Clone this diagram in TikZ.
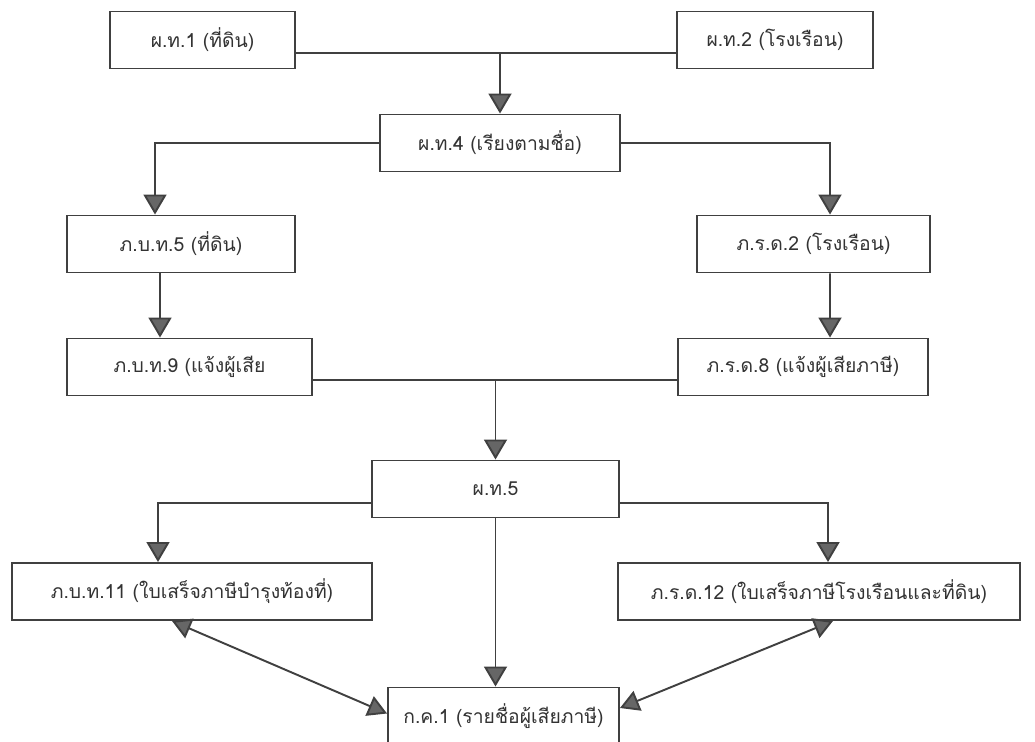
\documentclass[tikz,border=0pt]{standalone}
\usepackage{fontspec}
\newfontfamily\thaifont[Script=Thai]{Loma}
\usetikzlibrary{arrows.meta,positioning}

\begin{document}
\begin{tikzpicture}[node distance=2cm,on grid,
  form/.style={draw=black!75,line width=1.1pt,fill=white,minimum height=1.14cm,
    font=\thaifont\fontsize{11}{13}\selectfont,text=black!80},
  link/.style={draw=black!75,line width=1.1pt},
  arr/.style={link,-{Triangle[width=0.46cm,length=0.4cm,fill=black!60]}},
  twoway/.style={link,{Triangle[width=0.42cm,length=0.38cm,fill=black!60]}-{Triangle[width=0.42cm,length=0.38cm,fill=black!60]}}]
\useasboundingbox (0,0) rectangle (20.7,-14.84);
\node[form,minimum width=3.7cm] (pt1) at (4.05,-0.8) {ผ.ท.1 (ที่ดิน)};
\node[form,minimum width=3.92cm] (pt2) [right=11.45cm of pt1] {ผ.ท.2 (โรงเรือน)};
\node[form,minimum width=4.8cm] (pt4) [below right=2.06cm and 5.95cm of pt1] {ผ.ท.4 (เรียงตามชื่อ)};
\node[form,minimum width=4.56cm] (pbt5) [below left=2.02cm and 6.38cm of pt4] {ภ.บ.ท.5 (ที่ดิน)};
\node[form,minimum width=4.66cm] (prd2) [below right=2.02cm and 6.27cm of pt4] {ภ.ร.ด.2 (โรงเรือน)};
\node[form,minimum width=4.9cm] (pbt9) [below right=2.46cm and 0.17cm of pbt5] {ภ.บ.ท.9 (แจ้งผู้เสีย};
\node[form,minimum width=5cm] (prd8) [below left=2.46cm and 0.21cm of prd2] {ภ.ร.ด.8 (แจ้งผู้เสียภาษี)};
\node[form,minimum width=4.94cm] (pt5) [below left=6.92cm and 0.09cm of pt4] {ผ.ท.5};
\node[form,minimum width=7.2cm] (pbt11) [below left=2.05cm and 6.07cm of pt5] {ภ.บ.ท.11 (ใบเสร็จภาษีบำรุงท้องที่)};
\node[form,minimum width=8.04cm] (prd12) [below right=2.05cm and 6.47cm of pt5] {ภ.ร.ด.12 (ใบเสร็จภาษีโรงเรือนและที่ดิน)};
\node[form,minimum width=4.62cm] (kk1) [below right=4.54cm and 0.16cm of pt5] {ก.ค.1 (รายชื่อผู้เสียภาษี)};

\path ([yshift=-0.26cm]pt1.east) coordinate (a1)
      ([yshift=-0.26cm]pbt9.east) coordinate (a2)
      ([yshift=-0.28cm]pt5.west) coordinate (a3)
      ([yshift=-0.28cm]pt5.east) coordinate (a4);
\draw[link] (a1) -- (a1 -| pt2.west);
\draw[arr] (a1 -| pt4.north) -- (pt4.north);
\draw[arr] (pt4.west) -| ([xshift=-0.52cm]pbt5.north);
\draw[arr] (pt4.east) -| ([xshift=0.33cm]prd2.north);
\draw[arr] ([xshift=-0.42cm]pbt5.south) -- ([xshift=-0.59cm]pbt9.north);
\draw[arr] ([xshift=0.33cm]prd2.south) -- ([xshift=0.54cm]prd8.north);
\draw[link] (a2) -- (a2 -| prd8.west);
\draw[arr] (a2 -| pt5.north) -- (pt5.north);
\draw[arr] (a3) -| ([xshift=-0.68cm]pbt11.north);
\draw[arr] (a4) -| ([xshift=0.18cm]prd12.north);
\draw[arr] (pt5.south) -- (pt5.south |- kk1.north);
\draw[twoway] ([xshift=-0.4cm]pbt11.south) -- ([yshift=0.05cm]kk1.west);
\draw[twoway] ([xshift=0.28cm]prd12.south) -- ([yshift=0.16cm]kk1.east);
\end{tikzpicture}
\end{document}
